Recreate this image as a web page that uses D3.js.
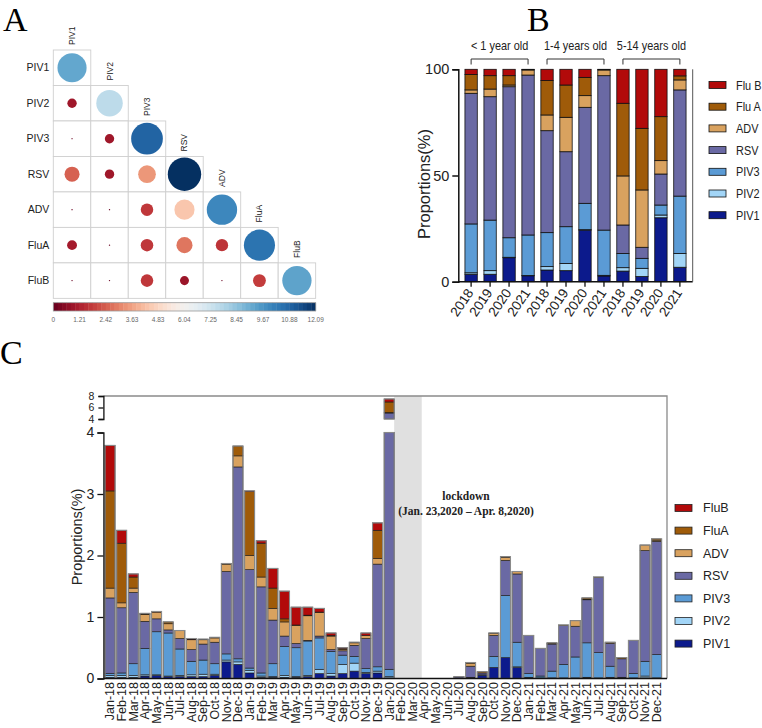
<!DOCTYPE html>
<html><head><meta charset="utf-8">
<script src="https://cdn.jsdelivr.net/npm/d3@7"></script>
<style>body{margin:0;background:#fff}svg{display:block}</style>
</head><body>
<svg id="c" width="762" height="728"></svg>
<script>
// ================= DATA =================
// Panel A: lower-triangle matrix (row i, cols 0..i)
const corrNames = ["PIV1","PIV2","PIV3","RSV","ADV","FluA","FluB"];
const corrRow1 = [9.2];
const corrRow2 = [0.95, 7.6];
const corrRow3 = [0.01, 0.95, 10.9];
const corrRow4 = [2.45, 0.95, 3.4, 12.09];
const corrRow5 = [0.02, 0.02, 1.7, 4.4, 10.0];
const corrRow6 = [1.05, 0.02, 1.7, 2.8, 1.65, 10.5];
const corrRow7 = [0.02, 0.02, 1.7, 0.88, 0.02, 1.8, 9.3];
const colorbarTicks = ["0","1.21","2.42","3.63","4.83","6.04","7.25","8.45","9.67","10.88","12.09"];
const colorMax = 12.09;

// Panel B: proportions (%) by age group and year
const ageGroups = ["< 1 year old","1-4 years old","5-14 years old"];
const bYears = ["2018","2019","2020","2021"];
const bKeys = ["PIV1","PIV2","PIV3","RSV","ADV","Flu A","Flu B"];
const bPIV1 = [3.5, 3.5, 11.3, 2.8, 5.5, 5.2, 24.3, 2.7, 5.0, 2.4, 30.1, 6.8];
const bPIV2 = [0.7, 1.7, 0.2, 0.1, 1.6, 3.4, 0.2, 0.3, 1.6, 3.9, 1.3, 6.5];
const bPIV3 = [23.0, 23.8, 9.2, 19.1, 16.0, 17.3, 12.4, 21.3, 6.7, 4.7, 4.7, 27.0];
const bRSV  = [61.5, 58.1, 71.1, 75.3, 48.0, 35.3, 45.2, 72.7, 13.4, 5.2, 14.6, 50.0];
const bADV  = [1.6, 3.6, 0.8, 2.4, 7.4, 16.2, 5.5, 2.7, 23.1, 27.0, 6.3, 4.7];
const bFluA = [7.3, 6.3, 4.4, 0.1, 16.2, 15.2, 8.6, 0.1, 34.2, 29.0, 20.7, 1.9];
const bFluB = [2.4, 3.0, 3.0, 0.2, 5.3, 7.4, 3.8, 0.2, 16.0, 27.8, 22.3, 3.1];

// Panel C: monthly proportions (%)
const monthNames = ["Jan","Feb","Mar","Apr","May","Jun","Jul","Aug","Sep","Oct","Nov","Dec"];
const cYears = ["18","19","20","21"];
const cKeys = ["PIV1","PIV2","PIV3","RSV","ADV","FluA","FluB"];
const cPIV1 = [0.02,0.02,0.02,0.04,0.05,0.03,0.03,0.03,0.03,0.05,0.27,0.23, 0.09,0.02,0.02,0.02,0.02,0.03,0.08,0.04,0.08,0.12,0.08,0.09, 0.01,0,0,0,0,0,0.01,0.01,0.05,0.18,0.34,0.18, 0.01,0.01,0.01,0.01,0.01,0.01,0.01,0.01,0.01,0.01,0.01,0.01];
const cPIV2 = [0.03,0.03,0.03,0.02,0.01,0.01,0.02,0.03,0.04,0.02,0.03,0.04, 0.04,0.02,0.01,0.03,0.01,0.02,0.07,0.04,0.15,0.13,0.02,0.03, 0.02,0,0,0,0,0,0,0,0,0,0,0.01, 0.01,0,0,0,0,0.01,0,0.01,0,0,0.03,0];
const cPIV3 = [0.03,0.04,0.19,0.43,0.70,0.70,0.43,0.22,0.23,0.17,0.10,0.05, 0.04,0.05,0.21,0.47,0.47,0.56,0.51,0.36,0.15,0.11,0.06,0.07, 0.12,0,0,0,0,0,0,0.01,0.01,0.18,1.01,0.40, 0.06,0.03,0.11,0.22,0.34,0.56,0.41,0.18,0.01,0.07,0.24,0.38];
const cRSV  = [1.23,1.06,1.16,0.44,0.21,0.05,0.17,0.19,0.26,0.35,1.34,3.12, 1.60,1.40,0.71,0.17,0.07,0.01,0.03,0.03,0.07,0.18,0.49,1.67, 4.89,0,0,0,0,0,0.02,0.18,0.03,0.34,0.57,1.11, 0.62,0.45,0.44,0.63,0.50,0.70,1.22,0.37,0.30,0.54,1.80,1.84];
const cADV  = [0.16,0.08,0.07,0.11,0.11,0.10,0.13,0.16,0.07,0.07,0.12,0.18, 0.23,0.16,0.19,0.23,0.29,0.40,0.38,0.22,0.02,0.04,0.05,0.09, 0.08,0,0,0,0,0,0,0.05,0,0.03,0.05,0.04, 0,0,0.01,0.01,0.09,0.01,0.01,0.02,0,0,0.09,0.02];
const cFluA = [1.58,0.97,0.18,0.01,0,0.03,0,0.01,0.01,0.01,0.01,0.16, 1.04,0.55,0.33,0.05,0.01,0.01,0.01,0.01,0.02,0.01,0,0.46, 1.84,0,0,0,0,0,0,0.01,0.02,0.01,0.01,0, 0,0,0.01,0,0,0.02,0,0,0.02,0,0,0.02];
const cFluB = [0.74,0.21,0.05,0.01,0.01,0,0,0.01,0,0,0,0, 0.01,0.04,0.32,0.45,0.29,0.13,0.06,0.04,0.01,0,0.04,0.12, 0.52,0,0,0,0,0,0,0,0,0,0,0, 0,0,0,0,0,0,0,0,0,0,0,0];
const cLowerTicks = [0,1,2,3,4];
const cUpperTicks = [4,6,8];
const lockdownText = ["lockdown","(Jan. 23,2020 \u2013 Apr. 8,2020)"];

const seriesColors = ["#0c1a8c","#a2d5f7","#5b9bd5","#6a69a4","#d9a25f","#9f5b09","#b20a0a"];

// ================= DRAW =================
const SANS = "'Liberation Sans', Arial, Helvetica, sans-serif";
const SERIF = "'Liberation Serif', 'Times New Roman', serif";
const svg = d3.select("#c");

// panel letters
[["A",3,31],["B",527,31],["C",0,364]].forEach(([t,x,y])=>{
  svg.append("text").attr("x",x).attr("y",y).attr("font-family",SERIF)
    .attr("font-size",34).attr("fill","#000").text(t);
});

// ---------- Panel A ----------
(function(){
  const rows = [corrRow1,corrRow2,corrRow3,corrRow4,corrRow5,corrRow6,corrRow7];
  const cw = 37.48, ch = 35.48, x0 = 53.3, y0 = 50;
  const ax = d3.scaleBand().domain(corrNames).range([x0, x0 + cw*corrNames.length]);
  const ay = d3.scaleBand().domain(corrNames).range([y0, y0 + ch*corrNames.length]);
  const col = v => d3.interpolateRdBu(v/colorMax);
  const rs = d3.scaleSqrt().domain([0,colorMax]).range([0,16.7]);
  const g = svg.append("g");
  const cells = [];
  rows.forEach((r,i)=>r.forEach((v,j)=>cells.push({row:corrNames[i],col:corrNames[j],v})));
  g.selectAll("rect.cell").data(cells).join("rect").attr("class","cell")
    .attr("x",d=>ax(d.col)).attr("y",d=>ay(d.row))
    .attr("width",ax.bandwidth()).attr("height",ay.bandwidth())
    .attr("fill","#fff").attr("stroke","#cfcfcf").attr("stroke-width",0.9);
  g.selectAll("circle").data(cells).join("circle")
    .attr("cx",d=>ax(d.col)+ax.bandwidth()/2).attr("cy",d=>ay(d.row)+ay.bandwidth()/2)
    .attr("r",d=>Math.max(0.6,rs(d.v))).attr("fill",d=>col(d.v));
  g.selectAll("text.rl").data(corrNames).join("text").attr("class","rl")
    .attr("x",x0-4).attr("y",d=>ay(d)+ay.bandwidth()/2).attr("dy","0.35em")
    .attr("text-anchor","end").attr("font-family",SANS).attr("font-size",10.5).attr("fill","#222").text(d=>d);
  g.selectAll("text.cl").data(corrNames).join("text").attr("class","cl")
    .attr("transform",d=>`translate(${ax(d)+ax.bandwidth()/2},${ay(d)-5}) rotate(-90)`)
    .attr("dy","0.35em").attr("font-family",SANS).attr("font-size",8.5).attr("fill","#222").text(d=>d);
  const cbx = d3.scaleLinear().domain([0,colorMax]).range([x0, x0 + cw*corrNames.length]);
  const cbY = 302.7, cbH = 8.3, n = 60;
  const steps = d3.range(n);
  g.selectAll("rect.cb").data(steps).join("rect").attr("class","cb")
    .attr("x",i=>cbx(i*colorMax/n)).attr("y",cbY)
    .attr("width",i=>cbx((i+1)*colorMax/n)-cbx(i*colorMax/n)+0.4).attr("height",cbH)
    .attr("fill",i=>col((i+0.5)*colorMax/n));
  g.append("rect").attr("x",cbx(0)).attr("y",cbY).attr("width",cbx(colorMax)-cbx(0)).attr("height",cbH)
    .attr("fill","none").attr("stroke","#999").attr("stroke-width",0.8);
  g.selectAll("text.cbt").data(colorbarTicks).join("text").attr("class","cbt")
    .attr("x",d=>cbx(+d)).attr("y",322).attr("text-anchor","middle")
    .attr("font-family",SANS).attr("font-size",6.5).attr("fill","#666").text(d=>d);
})();

// ---------- Panel B ----------
(function(){
  const vals = [bPIV1,bPIV2,bPIV3,bRSV,bADV,bFluA,bFluB];
  const recs = d3.range(12).map(i=>{const o={i}; bKeys.forEach((k,j)=>o[k]=vals[j][i]); return o;});
  const stack = d3.stack().keys(bKeys)(recs);
  const bx = d3.scaleBand().domain(d3.range(12)).range([458.3,692.7]).padding(0.35);
  const by = d3.scaleLinear().domain([0,100]).range([281.7,69.3]);
  const g = svg.append("g");
  stack.forEach((layer,li)=>{
    g.append("g").selectAll("rect").data(layer.filter(d=>d[1]-d[0]>0)).join("rect")
      .attr("x",d=>bx(d.data.i)).attr("width",bx.bandwidth())
      .attr("y",d=>by(d[1])).attr("height",d=>by(d[0])-by(d[1]))
      .attr("fill",seriesColors[li]).attr("stroke","#111").attr("stroke-width",0.8);
  });
  const yAx = g.append("g").attr("transform","translate(458.3,0)")
    .call(d3.axisLeft(by).tickValues([0,50,100]).tickSize(6).tickPadding(3));
  yAx.select(".domain").attr("stroke","#111").attr("stroke-width",1.5);
  yAx.selectAll(".tick line").attr("stroke","#111").attr("stroke-width",1.5);
  yAx.selectAll("text").attr("font-family",SANS).attr("font-size",14.5).attr("fill","#222");
  g.append("line").attr("x1",458.3).attr("x2",692.7).attr("y1",by(0)).attr("y2",by(0))
    .attr("stroke","#111").attr("stroke-width",1.5);
  g.append("line").attr("x1",692.7).attr("x2",692.7).attr("y1",by(100)).attr("y2",by(0))
    .attr("stroke","#555").attr("stroke-width",1);
  g.selectAll("line.xt").data(d3.range(12)).join("line").attr("class","xt")
    .attr("x1",i=>bx(i)+bx.bandwidth()/2).attr("x2",i=>bx(i)+bx.bandwidth()/2)
    .attr("y1",by(0)).attr("y2",by(0)+5).attr("stroke","#111").attr("stroke-width",1.3);
  g.selectAll("text.xl").data(d3.range(12)).join("text").attr("class","xl")
    .attr("transform",i=>`translate(${bx(i)+bx.bandwidth()/2-1},290) rotate(-56)`)
    .attr("dy","0.35em").attr("text-anchor","end")
    .attr("font-family",SANS).attr("font-size",13.5).attr("fill","#222").text(i=>bYears[i%4]);
  g.append("text").attr("transform","translate(430,184) rotate(-90)")
    .attr("text-anchor","middle").attr("font-family",SANS).attr("font-size",16.5).attr("fill","#222")
    .text("Proportions(%)");
  ageGroups.forEach((a,k)=>{
    const xa = bx(k*4)+bx.bandwidth()/2, xb = bx(k*4+3)+bx.bandwidth()/2;
    g.append("path").attr("d",`M${xa},64.5V59H${xb}V64.5`).attr("fill","none")
      .attr("stroke","#333").attr("stroke-width",1);
    g.append("text").attr("transform",`translate(${(xa+xb)/2},50) scale(0.84,1)`)
      .attr("text-anchor","middle").attr("font-family",SANS).attr("font-size",13).attr("fill","#222").text(a);
  });
  d3.range(bKeys.length).reverse().forEach((j,r)=>{
    const y = 85 + r*21.7;
    g.append("rect").attr("x",709).attr("y",y-3.5).attr("width",17).attr("height",7)
      .attr("fill",seriesColors[j]).attr("stroke","#111").attr("stroke-width",0.8);
    g.append("text").attr("transform",`translate(736,${y}) scale(0.84,1)`).attr("dy","0.35em")
      .attr("font-family",SANS).attr("font-size",13).attr("fill","#222").text(bKeys[j]);
  });
})();

// ---------- Panel C ----------
(function(){
  const vals = [cPIV1,cPIV2,cPIV3,cRSV,cADV,cFluA,cFluB];
  const labels = cYears.flatMap(y=>monthNames.map(m=>m+"-"+y));
  const recs = labels.map((m,i)=>{const o={m}; cKeys.forEach((k,j)=>o[k]=vals[j][i]); return o;});
  const stack = d3.stack().keys(cKeys)(recs);
  const left = 103.4, right = 667;
  const cx = d3.scaleBand().domain(labels).range([left,663.3]).padding(0.14);
  const yL = d3.scaleLinear().domain([0,4]).range([678.5,432.5]);
  const yU = d3.scaleLinear().domain([4,8]).range([419,396]);
  const g = svg.append("g");
  const sx0 = cx("Jan-20")+cx.bandwidth(), sx1 = cx("Apr-20")+cx.step()*0.23;
  g.append("rect").attr("x",sx0).attr("y",yU(8)).attr("width",sx1-sx0).attr("height",yL(0)-yU(8))
    .attr("fill","#e0e0e0");
  stack.forEach((layer,li)=>{
    g.append("g").selectAll("rect").data(layer.filter(d=>d[1]-d[0]>0 && d[0]<4)).join("rect")
      .attr("x",d=>cx(d.data.m)).attr("width",cx.bandwidth())
      .attr("y",d=>yL(Math.min(d[1],4))).attr("height",d=>yL(d[0])-yL(Math.min(d[1],4)))
      .attr("fill",seriesColors[li]).attr("stroke","#1a1a1a").attr("stroke-width",0.6);
    g.append("g").selectAll("rect").data(layer.filter(d=>d[1]-d[0]>0 && d[1]>4)).join("rect")
      .attr("x",d=>cx(d.data.m)).attr("width",cx.bandwidth())
      .attr("y",d=>yU(Math.min(d[1],8))).attr("height",d=>yU(Math.max(d[0],4))-yU(Math.min(d[1],8)))
      .attr("fill",seriesColors[li]).attr("stroke","#1a1a1a").attr("stroke-width",0.6);
  });
  const totals = recs.map(r=>({m:r.m,t:d3.sum(cKeys,k=>r[k])}));
  g.append("g").selectAll("rect").data(totals.filter(d=>d.t>0)).join("rect")
    .attr("x",d=>cx(d.m)).attr("width",cx.bandwidth())
    .attr("y",d=>yL(Math.min(d.t,4))).attr("height",d=>yL(0)-yL(Math.min(d.t,4)))
    .attr("fill","none").attr("stroke","#8a8a8a").attr("stroke-width",1.1);
  g.append("g").selectAll("rect").data(totals.filter(d=>d.t>4)).join("rect")
    .attr("x",d=>cx(d.m)).attr("width",cx.bandwidth())
    .attr("y",d=>yU(Math.min(d.t,8))).attr("height",d=>yU(4)-yU(Math.min(d.t,8)))
    .attr("fill","none").attr("stroke","#8a8a8a").attr("stroke-width",1.1);
  g.append("path").attr("d",`M${left},${yU(8)}H${right}V${yL(0)}`).attr("fill","none")
    .attr("stroke","#8a8a8a").attr("stroke-width",1.3);
  g.append("line").attr("x1",left).attr("x2",right).attr("y1",yL(0)).attr("y2",yL(0))
    .attr("stroke","#111").attr("stroke-width",1.3);
  const la = g.append("g").attr("transform",`translate(${left},0)`)
    .call(d3.axisLeft(yL).tickValues(cLowerTicks).tickFormat(d3.format("d")).tickSize(6).tickPadding(3));
  la.select(".domain").attr("stroke","#111").attr("stroke-width",1.3);
  la.selectAll(".tick line").attr("stroke","#111").attr("stroke-width",1.3);
  la.selectAll("text").attr("font-family",SANS).attr("font-size",14).attr("fill","#222");
  const ua = g.append("g").attr("transform",`translate(${left},0)`)
    .call(d3.axisLeft(yU).tickValues(cUpperTicks).tickFormat(d3.format("d")).tickSize(5).tickPadding(4));
  ua.select(".domain").attr("stroke","#111").attr("stroke-width",1.3);
  ua.selectAll(".tick line").attr("stroke","#111").attr("stroke-width",1.3);
  ua.selectAll("text").attr("font-family",SANS).attr("font-size",10.5).attr("fill","#222");
  g.selectAll("text.xl").data(labels).join("text").attr("class","xl")
    .attr("transform",d=>`translate(${cx(d)+cx.bandwidth()/2},682) rotate(-90)`)
    .attr("dy","0.35em").attr("text-anchor","end")
    .attr("font-family",SANS).attr("font-size",12.5).attr("fill","#222").text(d=>d);
  g.append("text").attr("transform","translate(77,537) rotate(-90)").attr("dy","0.35em")
    .attr("text-anchor","middle")
    .attr("font-family",SANS).attr("font-size",14.5).attr("fill","#222").text("Proportions(%)");
  lockdownText.forEach((t,i)=>{
    g.append("text").attr("x",466).attr("y",500+i*14.5).attr("text-anchor","middle")
      .attr("font-family",SERIF).attr("font-weight","bold").attr("font-size",11.5).attr("fill","#222").text(t);
  });
  d3.range(cKeys.length).reverse().forEach((j,r)=>{
    const y = 508 + r*22.6;
    g.append("rect").attr("x",675).attr("y",y-3.5).attr("width",17).attr("height",7)
      .attr("fill",seriesColors[j]).attr("stroke","#222").attr("stroke-width",0.8);
    g.append("text").attr("x",703).attr("y",y).attr("dy","0.35em")
      .attr("font-family",SANS).attr("font-size",12.5).attr("fill","#222").text(cKeys[j]);
  });
})();
</script>
</body></html>
